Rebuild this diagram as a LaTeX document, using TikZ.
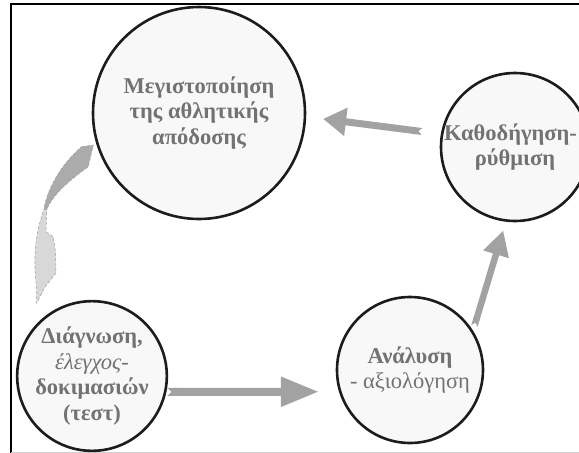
\documentclass[tikz,border=0pt]{standalone}
\usepackage{fontspec}
\setmainfont{Liberation Serif}
\usetikzlibrary{arrows.meta}
\definecolor{labelgray}{HTML}{727272}
\definecolor{rimblack}{HTML}{1C1C1C}
\definecolor{discfill}{HTML}{F8F8F8}
\definecolor{flowgray}{HTML}{A2A2A2}
\definecolor{twistdark}{HTML}{ABABAB}
\definecolor{twistlight}{HTML}{D8D8D8}
\definecolor{twistedge}{HTML}{9C9C9C}

\begin{document}
\begin{tikzpicture}[x=1pt,y=-1pt,
  stage/.style={circle, draw=rimblack, line width=2.6pt, fill=discfill,
    text=labelgray, font=\bfseries\fontsize{22.5}{25.5}\selectfont,
    align=center, inner sep=0pt},
  flow/.style={draw=flowgray, {Triangle Cap[reversed]}-{Triangle[#1]}},
  twist/.style={draw=twistedge, densely dashed, line width=0.5pt},
]
\useasboundingbox (0,0) rectangle (579,453);

% outer frame
\draw[line width=1.6pt] (11,453) -- (11,4) -- (590,4);
\draw[line width=1pt, gray!35] (11,452) -- (590,452);

% stages of the cycle
\node[stage, minimum size=212pt] (peak) at (199,113)
  {Μεγιστοποίηση\\της αθλητικής\\απόδοσης};
\node[stage, minimum size=148pt] (coach) at (515,147)
  {\hspace*{-9pt}Καθοδήγηση-\\ρύθμιση};
\node[stage, minimum size=148pt] (test) at (92,376)
  {Διάγνωση,\\{\mdseries\itshape έλεγχος-}\\δοκιμασιών\\(τεστ)};
\node[stage, minimum size=146pt] (eval) at (410,370)
  {Ανάλυση\\{\mdseries - αξιολόγηση}};

% straight block arrows between stages
\draw[flow={length=38pt,width=28pt}, line width=8pt,
  shorten <=1pt, shorten >=20pt] (test.-12) -- (eval.197);
\draw[flow={length=25pt,width=25pt}, line width=6.5pt,
  shorten <=5pt, shorten >=9pt] (eval.32) -- (coach.263);
\draw[flow={length=23pt,width=27pt}, line width=7pt,
  shorten <=19pt, shorten >=17pt] (coach.170) -- (peak.358);

% twisted curved arrow from the peak down to the test stage
\path[twist, fill=twistdark] (81.7,146.7) -- (93.3,145)
  .. controls (91,155) .. (88.3,166.7)
  .. controls (70,180) and (52,195) .. (46.7,210)
  -- (44,209) .. controls (47,190) and (60,165) .. cycle;
\path[twist, fill=twistlight] (44,209) -- (46.7,210) -- (46,232)
  -- (53.3,236.7) -- (55.5,252) -- (56,273) -- (45,287) -- (36.7,303)
  -- (36.5,287) .. controls (34,265) and (33,240) .. (44,209) -- cycle;
\end{tikzpicture}
\end{document}
